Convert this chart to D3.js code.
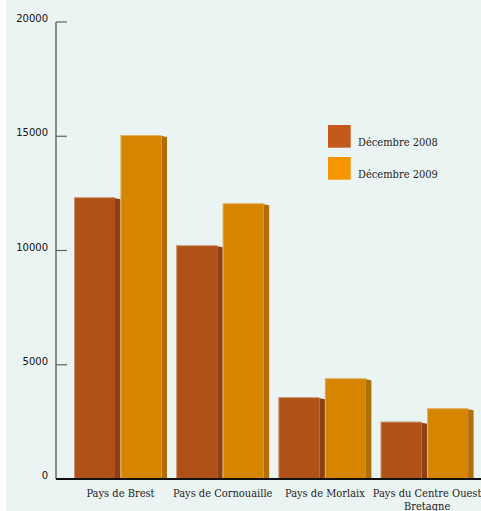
<!DOCTYPE html>
<html>
<head>
<meta charset="utf-8">
<script src="https://cdn.jsdelivr.net/npm/d3@7"></script>
<style>
  html, body { margin: 0; padding: 0; background: #fff; }
  svg { display: block; }
</style>
</head>
<body>
<div id="chart"></div>
<script>
// Data
const categories = ['Pays de Brest', 'Pays de Cornouaille', 'Pays de Morlaix', 'Pays du Centre Ouest Bretagne'];
const seriesNames = ['Décembre 2008', 'Décembre 2009'];
const values2008 = [12330, 10230, 3580, 2510];
const values2009 = [15050, 12070, 4410, 3100];
const yTicks = [0, 5000, 10000, 15000, 20000];

const width = 481, height = 511;
const frontColors = ['#b05119', '#d68500'];
const sideColors = ['#8e3f15', '#b06e06'];
const legendColors = ['#c4591c', '#f59500'];
const depth = 5.5;

const svg = d3.select('#chart').append('svg')
    .attr('width', width)
    .attr('height', height);

// Background panel
svg.append('rect')
    .attr('x', 6).attr('y', 0)
    .attr('width', width - 6).attr('height', height)
    .attr('fill', '#eaf4f3');

const y = d3.scaleLinear().domain([0, 20000]).range([479, 22]);

const x0 = d3.scaleBand()
    .domain(categories)
    .range([69.4, 478.2])
    .paddingInner(0.09)
    .paddingOuter(0.045);

const x1 = d3.scaleBand()
    .domain(seriesNames)
    .range([0, x0.bandwidth()]);

// Y axis
const axisX = 56;
svg.append('line')
    .attr('x1', axisX).attr('x2', axisX)
    .attr('y1', y(20000)).attr('y2', y(0))
    .attr('stroke', '#5f6464').attr('stroke-width', 1.4);

yTicks.forEach(t => {
    svg.append('line')
        .attr('x1', axisX).attr('x2', axisX + 11)
        .attr('y1', y(t)).attr('y2', y(t))
        .attr('stroke', '#5f6464').attr('stroke-width', 1.2);
    svg.append('text')
        .attr('x', 48).attr('y', y(t))
        .attr('text-anchor', 'end')
        .attr('font-family', 'DejaVu Sans, sans-serif')
        .attr('font-size', '10px')
        .attr('fill', '#111')
        .text(t);
});

// Bars
const rows = categories.map((c, i) => ({ cat: c, vals: [values2008[i], values2009[i]] }));

rows.forEach(r => {
    r.vals.forEach((v, s) => {
        const bx = x0(r.cat) + x1(seriesNames[s]);
        const bw = x1.bandwidth() - depth;
        const top = y(v);
        const base = y(0);
        // side face
        svg.append('path')
            .attr('d', `M${bx + bw},${top + 1} L${bx + bw + depth},${top + 2} L${bx + bw + depth},${base} L${bx + bw},${base} Z`)
            .attr('fill', sideColors[s]);
        // front face
        svg.append('rect')
            .attr('x', bx).attr('y', top)
            .attr('width', bw).attr('height', base - top)
            .attr('fill', frontColors[s]);
        // light edge on top and left
        svg.append('path')
            .attr('d', `M${bx + 0.5},${base} L${bx + 0.5},${top + 0.5} L${bx + bw},${top + 0.5}`)
            .attr('fill', 'none')
            .attr('stroke', '#ffffff')
            .attr('stroke-opacity', 0.35)
            .attr('stroke-width', 1);
    });
});

// Baseline
svg.append('line')
    .attr('x1', axisX).attr('x2', width)
    .attr('y1', y(0)).attr('y2', y(0))
    .attr('stroke', '#111').attr('stroke-width', 2);

// Category labels
const labelFont = 'DejaVu Serif Condensed, DejaVu Serif, serif';
categories.forEach(c => {
    const cx = x0(c) + x0.bandwidth() / 2;
    const lines = c === 'Pays du Centre Ouest Bretagne' ? ['Pays du Centre Ouest', 'Bretagne'] : [c];
    lines.forEach((ln, i) => {
        svg.append('text')
            .attr('x', cx).attr('y', 497 + i * 12.5)
            .attr('text-anchor', 'middle')
            .attr('font-family', labelFont)
            .attr('font-size', '11px')
            .attr('fill', '#222')
            .text(ln);
    });
});

// Legend
seriesNames.forEach((name, i) => {
    const ly = 125 + i * 32;
    svg.append('rect')
        .attr('x', 328).attr('y', ly)
        .attr('width', 22.7).attr('height', 22.7)
        .attr('fill', legendColors[i]);
    svg.append('text')
        .attr('x', 358).attr('y', ly + 21)
        .attr('font-family', labelFont)
        .attr('font-size', '11px')
        .attr('fill', '#222')
        .text(name);
});
</script>
</body>
</html>
